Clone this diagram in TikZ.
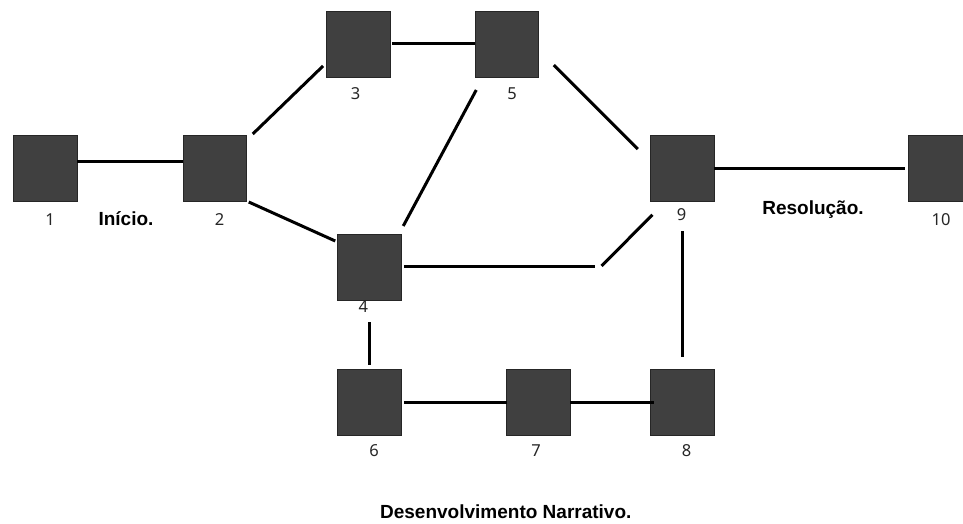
\documentclass[tikz,border=0pt]{standalone}
\usepackage{fontspec}
\setmainfont{Liberation Sans}
\newfontfamily\numfont{Noto Sans}
\begin{document}
\begin{tikzpicture}[x=1bp,y=-1bp,
  box/.style={draw=black!85,line width=0.8bp,fill=black!75,minimum width=63.5bp,minimum height=66bp,inner sep=0pt,outer sep=0pt},
  num/.style={anchor=base,inner sep=0pt,font=\numfont\fontsize{16.5bp}{18bp}\selectfont,text=black!85},
  lbl/.style={anchor=base,inner sep=0pt,font=\bfseries\fontsize{19bp}{21bp}\selectfont},
  link/.style={line width=3bp,black}]
\useasboundingbox (0,0) rectangle (963,524);
\node[box] (n1) at (45.5,168) {};
\node[box] (n2) at (215,168) {};
\node[box] (n3) at (358.5,44) {};
\node[box] (n5) at (507,44) {};
\node[box] (n9) at (682.5,168.5) {};
\node[box] (n10) at (940,168.5) {};
\node[box] (n4) at (369.5,267) {};
\node[box] (n6) at (369.5,402.5) {};
\node[box] (n7) at (538.5,402.5) {};
\node[box] (n8) at (682.5,402.5) {};
% labels
\node[num] (t1) at (50,226) {1};
\node[lbl] (ti) at (126,226) {Início.};
\node[num] (t2) at (219.5,226) {2};
\node[num] (t3) at (355.5,100) {3};
\node[num] (t5) at (512,100) {5};
\node[num] (t9) at (681.7,221) {9};
\node[lbl] (tr) at (813,214.3) {Resolução.};
\node[num] (t10) at (941,226) {10};
\node[num] (t4) at (363.3,313) {4};
\node[num] (t6) at (374,456) {6};
\node[num] (t7) at (536,456) {7};
\node[num] (t8) at (686.7,456) {8};
\node[lbl] (td) at (505.8,518) {Desenvolvimento Narrativo.};
% connectors
\draw[link] ([shift={(0,-6)}]n1.east) -- ([shift={(0,-6)}]n2.west);
\draw[link] ([shift={(6,-1)}]n2.north east) -- ([shift={(-3.7,-11)}]n3.south west);
\draw[link] ([shift={(2,0)}]n3.east) -- (n5.west);
\draw[link] ([shift={(15,21)}]n5.east) -- ([shift={(-13,-19.5)}]n9.west);
\draw[link] ([shift={(2,1)}]n2.south east) -- ([shift={(-2.5,7)}]n4.north west);
\draw[link] ([shift={(1,13)}]n5.south west) -- ([shift={(2,-8)}]n4.north east);
\coordinate (b1) at (595,267);
\coordinate (b2) at (601.5,266);
\draw[link] ([shift={(2.5,0)}]n4.east) -- (b1);
\draw[link] (b2) -- ([shift={(1.7,13.3)}]n9.south west);
\draw[link] (n9.east) -- ([shift={(-3,0)}]n10.west);
\draw[link] ([shift={(0,30)}]n9.south) -- ([shift={(0,-12)}]n8.north);
\draw[link] ([shift={(0,22)}]n4.south) -- ([shift={(0,-4)}]n6.north);
\draw[link] ([shift={(2.5,0)}]n6.east) -- (n7.west);
\draw[link] (n7.east) -- ([shift={(3,0)}]n8.west);
\end{tikzpicture}
\end{document}
